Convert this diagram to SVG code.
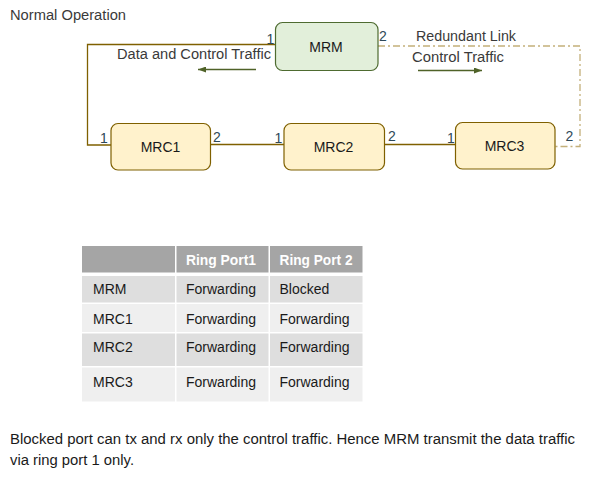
<svg xmlns="http://www.w3.org/2000/svg" width="594" height="478" viewBox="0 0 594 478">
<defs>
<marker id="arr" markerWidth="8" markerHeight="6" refX="8" refY="3" orient="auto" markerUnits="userSpaceOnUse">
<path d="M0,0 L8,3 L0,6 Z" fill="#4F6228"/>
</marker>
<style>
text{font-family:"Liberation Sans",Arial,sans-serif;font-size:14px;fill:#3a3a3a}
.lbl{fill:#1a1a1a}
.port{font-size:14px;fill:#2f4858}
.ring{fill:none;stroke:#7F6000;stroke-width:1.3}
.red{fill:none;stroke:#C4B07A;stroke-width:1.3;stroke-dasharray:7 3 2 3}
.mrc{fill:#FFF2CC;stroke:#7F6000;stroke-width:1.2}
.mrm{fill:#E2EFDA;stroke:#4E6B30;stroke-width:1.2}
.flow{stroke:#4F6228;stroke-width:1.3;fill:none}
.th{fill:#fff;font-weight:bold}
.td{fill:#1a1a1a}
</style>
</defs>
<text x="10" y="20" textLength="116" lengthAdjust="spacingAndGlyphs">Normal Operation</text>
<g id="connectors">
<polyline class="ring" points="275,44.5 87.5,44.5 87.5,145 111,145"/>
<line class="ring" x1="211" y1="144.5" x2="284" y2="144.5"/>
<line class="ring" x1="385" y1="144.5" x2="455" y2="144.5"/>
<polyline class="red" points="378,46 580,46 580,146.5 555,146.5"/>
<line class="flow" x1="256" y1="69.5" x2="198" y2="69.5" marker-end="url(#arr)"/>
<line class="flow" x1="418" y1="70.5" x2="482" y2="70.5" marker-end="url(#arr)"/>
<text x="117" y="58.5" textLength="154" lengthAdjust="spacingAndGlyphs">Data and Control Traffic</text>
<text x="416" y="40.5" textLength="100" lengthAdjust="spacingAndGlyphs">Redundant Link</text>
<text x="412" y="61.5" textLength="92" lengthAdjust="spacingAndGlyphs">Control Traffic</text>
<text class="port" x="266.5" y="44">1</text>
<text class="port" x="379" y="40.5">2</text>
<text class="port" x="100" y="143">1</text>
<text class="port" x="213" y="142">2</text>
<text class="port" x="274.5" y="143">1</text>
<text class="port" x="388" y="140.5">2</text>
<text class="port" x="447" y="143">1</text>
<text class="port" x="565.5" y="140.5">2</text>
</g>
<g id="MRM">
<rect class="mrm" x="275.5" y="22.5" width="102.5" height="48" rx="7"/>
<text class="lbl" x="326" y="51.5" text-anchor="middle">MRM</text>
</g>
<g id="MRC1">
<rect class="mrc" x="111" y="123.5" width="99.5" height="46.5" rx="7"/>
<text class="lbl" x="160.5" y="151.5" text-anchor="middle">MRC1</text>
</g>
<g id="MRC2">
<rect class="mrc" x="284" y="123.5" width="100.5" height="46.5" rx="7"/>
<text class="lbl" x="333.5" y="151.5" text-anchor="middle">MRC2</text>
</g>
<g id="MRC3">
<rect class="mrc" x="455.5" y="122.5" width="99.5" height="46.5" rx="7"/>
<text class="lbl" x="504.5" y="151" text-anchor="middle">MRC3</text>
</g>
<g id="table">
<rect x="82" y="246" width="93" height="26.5" fill="#A5A5A5"/>
<rect x="176.5" y="246" width="92" height="26.5" fill="#A5A5A5"/>
<rect x="270" y="246" width="92.5" height="26.5" fill="#A5A5A5"/>
<rect x="82" y="276" width="93" height="26.5" fill="#DEDEDE"/>
<rect x="176.5" y="276" width="92" height="26.5" fill="#DEDEDE"/>
<rect x="270" y="276" width="92.5" height="26.5" fill="#DEDEDE"/>
<rect x="82" y="304" width="93" height="28" fill="#EFEFEF"/>
<rect x="176.5" y="304" width="92" height="28" fill="#EFEFEF"/>
<rect x="270" y="304" width="92.5" height="28" fill="#EFEFEF"/>
<rect x="82" y="333.5" width="93" height="32.5" fill="#DEDEDE"/>
<rect x="176.5" y="333.5" width="92" height="32.5" fill="#DEDEDE"/>
<rect x="270" y="333.5" width="92.5" height="32.5" fill="#DEDEDE"/>
<rect x="82" y="367.5" width="93" height="34" fill="#EFEFEF"/>
<rect x="176.5" y="367.5" width="92" height="34" fill="#EFEFEF"/>
<rect x="270" y="367.5" width="92.5" height="34" fill="#EFEFEF"/>
<text class="th" x="186" y="265" textLength="70" lengthAdjust="spacingAndGlyphs">Ring Port1</text>
<text class="th" x="279.5" y="265" textLength="73" lengthAdjust="spacingAndGlyphs">Ring Port 2</text>
<text class="td" x="93" y="293.5">MRM</text>
<text class="td" x="186" y="293.5">Forwarding</text>
<text class="td" x="279.5" y="293.5">Blocked</text>
<text class="td" x="93" y="323.5">MRC1</text>
<text class="td" x="186" y="323.5">Forwarding</text>
<text class="td" x="279.5" y="323.5">Forwarding</text>
<text class="td" x="93" y="352">MRC2</text>
<text class="td" x="186" y="352">Forwarding</text>
<text class="td" x="279.5" y="352">Forwarding</text>
<text class="td" x="93" y="387">MRC3</text>
<text class="td" x="186" y="387">Forwarding</text>
<text class="td" x="279.5" y="387">Forwarding</text>
</g>
<text class="td" x="10" y="444" textLength="565" lengthAdjust="spacingAndGlyphs">Blocked port  can tx and rx only the control  traffic. Hence MRM transmit the data traffic</text>
<text class="td" x="10" y="465" textLength="124" lengthAdjust="spacingAndGlyphs">via ring port 1 only.</text>
</svg>
